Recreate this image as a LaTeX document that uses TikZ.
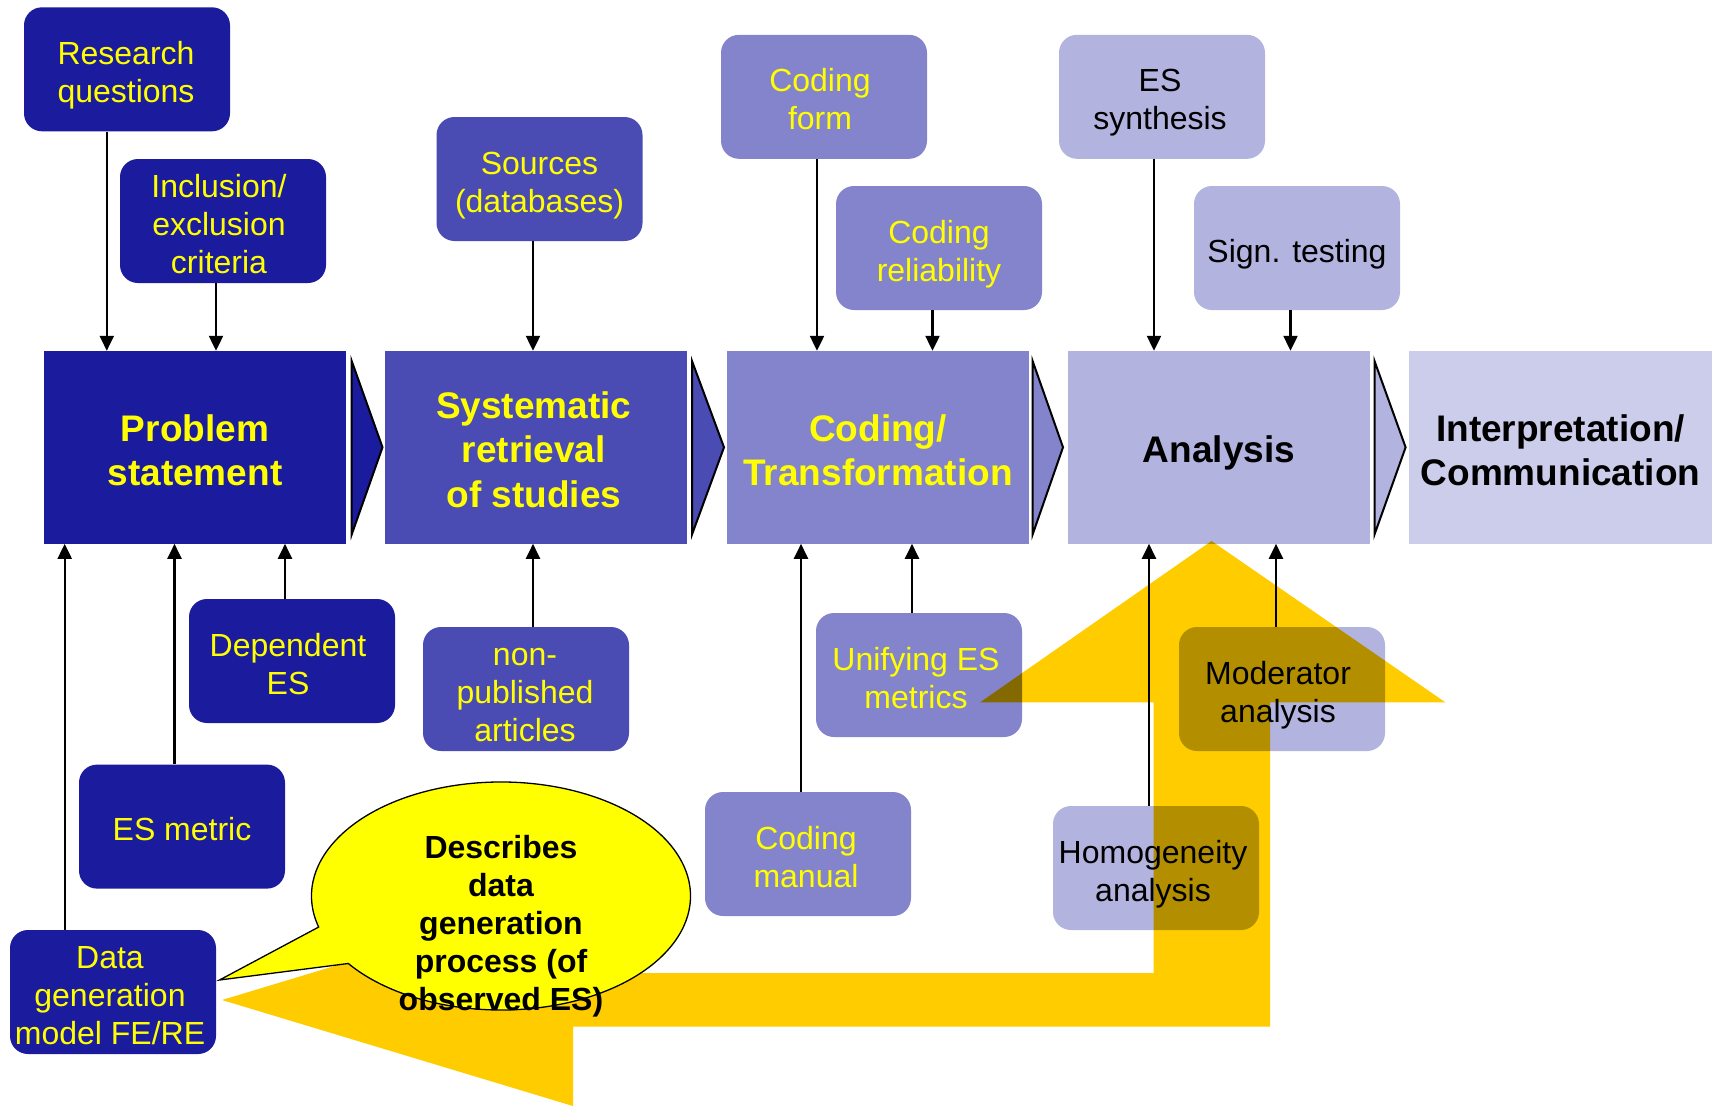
\documentclass[tikz,border=0pt]{standalone}
\usepackage{fontspec}
\setmainfont{Liberation Sans}
\usetikzlibrary{arrows.meta}
\definecolor{cA}{HTML}{1B1B9E}
\definecolor{cB}{HTML}{4B4BB4}
\definecolor{cC}{HTML}{8484CC}
\definecolor{cD}{HTML}{B3B3E0}
\definecolor{cE}{HTML}{CCCCEB}
\definecolor{txtY}{HTML}{FFFF00}
\definecolor{arrY}{HTML}{FFCC00}
\definecolor{callY}{HTML}{FFFF00}
% text block: [extra right kern]{downward shift}{lines}
\newcommand{\tx}[3][0pt]{\raisebox{0pt}[\dimexpr\height+#2\relax][\dimexpr\depth-#2\relax]{\begin{tabular}{@{}c@{}}#3\end{tabular}}\kern#1}
\begin{document}
\begin{tikzpicture}[x=1pt,y=-1pt,
  sbox/.style={rounded corners=18pt, minimum width=206pt, minimum height=124pt, inner sep=0pt, font=\fontsize{32}{38}\selectfont},
  mbox/.style={minimum width=302pt, minimum height=192.6pt, inner sep=0pt, font=\bfseries\fontsize{37}{44.5}\selectfont},
  arr/.style={line width=2.2pt, -{Triangle[length=15pt,width=14pt]}},
  chev/.style={draw=black, line width=2pt, line join=miter},
]
\useasboundingbox (0,0) rectangle (1712,1106);
\fill[white] (0,0) rectangle (1712,1106);

% main process boxes
\node[mbox, fill=cA, text=txtY] (ps) at (195,447.3) {\tx{7.5pt}{Problem\\statement}};
\node[mbox, fill=cB, text=txtY, minimum width=301.5pt] (sys) at (535.8,447.3) {\tx[4pt]{6.5pt}{Systematic\\retrieval\\of studies}};
\node[mbox, fill=cC, text=txtY] (cod) at (878,447.3) {\tx{7.5pt}{Coding/\\Transformation}};
\node[mbox, fill=cD, text=black] (ana) at (1219,447.3) {\tx{6pt}{Analysis}};
\node[mbox, fill=cE, text=black, minimum width=303pt] (int) at (1560.5,447.3) {\tx{7.5pt}{Interpretation/\\Communication}};

% chevrons
\draw[chev, fill=cA] (351.7,361) -- (382.5,447.3) -- (351.7,534.5) -- cycle;
\draw[chev, fill=cB] (692,361) -- (724,447.3) -- (692,534.5) -- cycle;
\draw[chev, fill=cC] (1032.6,361) -- (1063,447.3) -- (1032.6,534.5) -- cycle;
\draw[chev, fill=cD] (1374.5,361) -- (1405.6,447.3) -- (1374.5,534.5) -- cycle;

% top boxes
\node[sbox, fill=cA, text=txtY] (rq) at (127,69.3) {\tx[2pt]{6.5pt}{Research\\questions}};
\node[sbox, fill=cA, text=txtY] (inc) at (223,221) {\tx[8pt]{6.5pt}{Inclusion/\\exclusion\\criteria}};
\node[sbox, fill=cB, text=txtY] (src) at (539.5,179) {\tx{6.5pt}{Sources\\(databases)}};
\node[sbox, fill=cC, text=txtY] (cform) at (824,96.8) {\tx[8pt]{6.5pt}{Coding\\form}};
\node[sbox, fill=cC, text=txtY] (crel) at (939,248) {\tx{6.5pt}{Coding\\reliability}};
\node[sbox, fill=cD, text=black] (ess) at (1162,96.8) {\tx[4pt]{6.5pt}{ES\\synthesis}};
\node[sbox, fill=cD, text=black] (sig) at (1297,248) {\tx{6.5pt}{Sign. testing}};

% bottom boxes
\node[sbox, fill=cA, text=txtY] (dep) at (292,661) {\tx[8pt]{6.5pt}{Dependent\\ES}};
\node[sbox, fill=cB, text=txtY] (nonpub) at (526,689) {\tx[2pt]{6.5pt}{non-\\published\\articles}};
\node[sbox, fill=cA, text=txtY] (esm) at (182,826.6) {\tx{6.5pt}{ES metric}};
\node[sbox, fill=cA, text=txtY] (dgm) at (113,992) {\tx[6pt]{6.5pt}{Data\\generation\\model FE/RE}};
\node[sbox, fill=cC, text=txtY] (unify) at (919,675) {\tx[6pt]{6.5pt}{Unifying ES\\metrics}};
\node[sbox, fill=cC, text=txtY] (cman) at (808,854) {\tx[4pt]{6.5pt}{Coding\\manual}};
\node[sbox, fill=cD, text=black] (mod) at (1282,689) {\tx[8pt]{6.5pt}{Moderator\\analysis}};
\node[sbox, fill=cD, text=black] (hom) at (1156,868) {\tx[6pt]{6.5pt}{Homogeneity\\analysis}};

% arrows from above
\draw[arr] ([xshift=-20.2pt]rq.south) -- ([xshift=-20.2pt]rq.south |- ps.north);
\draw[arr] ([xshift=-7pt]inc.south) -- ([xshift=-7pt]inc.south |- ps.north);
\draw[arr] ([xshift=-6.5pt]src.south) -- ([xshift=-6.5pt]src.south |- sys.north);
\draw[arr] ([xshift=-7pt]cform.south) -- ([xshift=-7pt]cform.south |- cod.north);
\draw[arr] ([xshift=-6.5pt]crel.south) -- ([xshift=-6.5pt]crel.south |- cod.north);
\draw[arr] ([xshift=-8pt]ess.south) -- ([xshift=-8pt]ess.south |- ana.north);
\draw[arr] ([xshift=-6.5pt]sig.south) -- ([xshift=-6.5pt]sig.south |- ana.north);

% arrows from below
\draw[arr] ([xshift=-48.3pt]dgm.north) -- ([xshift=-48.3pt]dgm.north |- ps.south);
\draw[arr] ([xshift=-7.5pt]esm.north) -- ([xshift=-7.5pt]esm.north |- ps.south);
\draw[arr] ([xshift=-7pt]dep.north) -- ([xshift=-7pt]dep.north |- ps.south);
\draw[arr] ([xshift=7pt]nonpub.north) -- ([xshift=7pt]nonpub.north |- sys.south);
\draw[arr] ([xshift=-7pt]cman.north) -- ([xshift=-7pt]cman.north |- cod.south);
\draw[arr] ([xshift=-7pt]unify.north) -- ([xshift=-7pt]unify.north |- cod.south);
\draw[arr] ([xshift=-7pt]hom.north) -- ([xshift=-7pt]hom.north |- ana.south);
\draw[arr] ([xshift=-6pt]mod.north) -- ([xshift=-6pt]mod.north |- ana.south);

% big yellow feedback arrow
\begin{scope}[blend mode=multiply]
\fill[arrY] (1153.7,702.4) -- (980,702.4) -- (1211.5,541) -- (1445.5,702.4) -- (1270,702.4)
  -- (1270,1026.7) -- (573,1026.7) -- (573,1106) -- (222,1000) -- (573,894) -- (573,973)
  -- (1153.7,973) -- cycle;
\end{scope}

% callout
\draw[line width=1.3pt, fill=callY] (501,896) ++(164.2:189.5 and 114)
  arc[start angle=164.2, end angle=503.7, x radius=189.5, y radius=114] -- (219.5,980) -- cycle;
\node[font=\bfseries\fontsize{32}{38}\selectfont, align=center, inner sep=0pt] (callt) at (501,926)
  {Describes\\data\\generation\\process (of\\observed ES)};
\end{tikzpicture}
\end{document}
